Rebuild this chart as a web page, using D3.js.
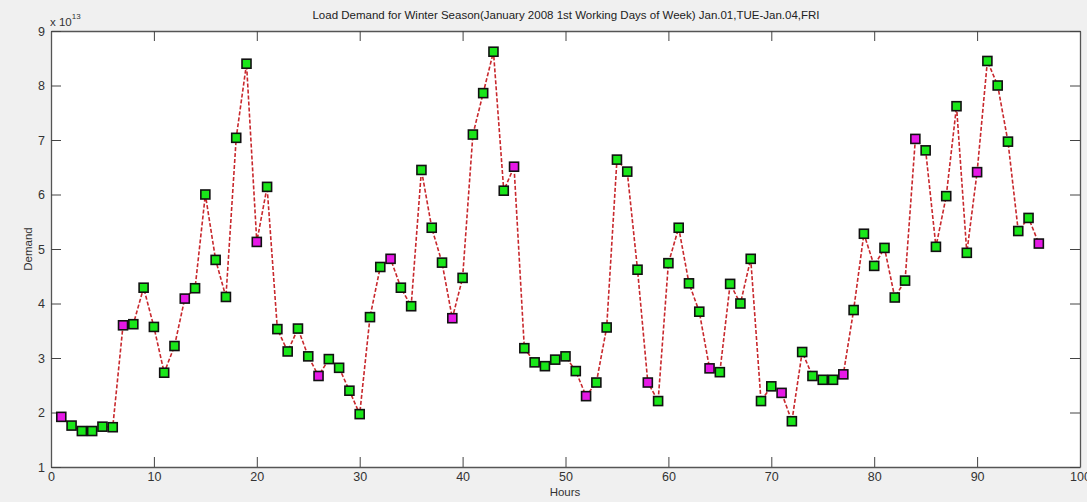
<!DOCTYPE html>
<html>
<head>
<meta charset="utf-8">
<script src="https://cdnjs.cloudflare.com/ajax/libs/d3/7.8.5/d3.min.js"></script>
<style>
  body { margin: 0; background: #f0f0f0; }
  svg { display: block; }
  text { font-family: "Liberation Sans", Arial, sans-serif; fill: #333; }
</style>
</head>
<body>
<div id="chart"></div>
<script>
let width = 1087,
  height = 502;

// hours 1..96
let hours = d3.range(1, 97);

// demand in units of 1e13
let demand = [
  1.92, 1.76, 1.66, 1.66, 1.74, 1.73, 3.60, 3.62, 4.29, 3.57,
  2.73, 3.22, 4.09, 4.28, 6.00, 4.80, 4.12, 7.04, 8.40, 5.13,
  6.14, 3.53, 3.12, 3.54, 3.03, 2.67, 2.98, 2.82, 2.40, 1.97,
  3.75, 4.67, 4.82, 4.29, 3.95, 6.45, 5.39, 4.75, 3.73, 4.47,
  7.10, 7.86, 8.62, 6.07, 6.51, 3.18, 2.92, 2.85, 2.97, 3.03,
  2.76, 2.30, 2.55, 3.56, 6.64, 6.42, 4.62, 2.55, 2.21, 4.74,
  5.39, 4.37, 3.85, 2.81, 2.74, 4.36, 4.00, 4.82, 2.21, 2.48,
  2.36, 1.84, 3.11, 2.67, 2.60, 2.60, 2.70, 3.88, 5.28, 4.69,
  5.02, 4.11, 4.42, 7.02, 6.81, 5.04, 5.97, 7.62, 4.93, 6.41,
  8.45, 8.00, 6.97, 5.33, 5.57, 5.10
];

// hours drawn with magenta markers (first hour of each 6-hour block)
let highlighted = [1, 7, 13, 20, 26, 33, 39, 45, 52, 58, 64, 71, 77, 84, 90, 96];

let xTicks = d3.range(0, 101, 10);
let yTicks = d3.range(1, 10, 1);

let margin = { left: 51, top: 31, right: 7, bottom: 35 };
let plotW = width - margin.left - margin.right,
  plotH = height - margin.top - margin.bottom;

let svg = d3.select('#chart')
  .append('svg')
  .attr('width', width)
  .attr('height', height);

//white plot area
svg.append('rect')
  .attr('x', margin.left)
  .attr('y', margin.top)
  .attr('width', plotW)
  .attr('height', plotH)
  .style('fill', '#fff');

let xScale = d3.scaleLinear().domain([0, 100]).range([margin.left, margin.left + plotW]);
let yScale = d3.scaleLinear().domain([1, 9]).range([margin.top + plotH, margin.top]);

// axes with inward ticks on all four sides (matlab box)
function styleAxis(g) {
  g.select('.domain').attr('stroke', '#555').attr('stroke-width', 1.3);
  g.selectAll('.tick line').attr('stroke', '#444');
  g.selectAll('.tick text').style('font-size', '12.5px').style('fill', '#333');
}

svg.append('g')
  .attr('transform', 'translate(0,' + (margin.top + plotH) + ')')
  .call(d3.axisBottom(xScale).tickValues(xTicks).tickSizeInner(-10).tickSizeOuter(0).tickPadding(5))
  .call(styleAxis);

svg.append('g')
  .attr('transform', 'translate(0,' + margin.top + ')')
  .call(d3.axisTop(xScale).tickValues(xTicks).tickSizeInner(-10).tickSizeOuter(0).tickFormat(''))
  .call(styleAxis);

svg.append('g')
  .attr('transform', 'translate(' + margin.left + ',0)')
  .call(d3.axisLeft(yScale).tickValues(yTicks).tickSizeInner(-10).tickSizeOuter(0).tickPadding(6))
  .call(styleAxis);

svg.append('g')
  .attr('transform', 'translate(' + (margin.left + plotW) + ',0)')
  .call(d3.axisRight(yScale).tickValues(yTicks).tickSizeInner(-10).tickSizeOuter(0).tickFormat(''))
  .call(styleAxis);

// dashed red line
let line = d3.line()
  .x(function (d, i) { return xScale(hours[i]); })
  .y(function (d) { return yScale(d); });

svg.append('path')
  .datum(demand)
  .attr('d', line)
  .style('fill', 'none')
  .style('stroke', '#c8282d')
  .style('stroke-width', 1.6)
  .style('stroke-dasharray', '4,2');

// square markers
let s = 9;
svg.selectAll('.marker')
  .data(demand)
  .enter()
  .append('rect')
  .attr('class', 'marker')
  .attr('x', function (d, i) { return xScale(hours[i]) - s / 2; })
  .attr('y', function (d) { return yScale(d) - s / 2; })
  .attr('width', s)
  .attr('height', s)
  .style('fill', function (d, i) {
    return highlighted.indexOf(hours[i]) >= 0 ? '#e619e6' : '#19e619';
  })
  .style('stroke', '#111')
  .style('stroke-width', 1.6);

// title
svg.append('text')
  .attr('x', 566)
  .attr('y', 19)
  .style('text-anchor', 'middle')
  .style('font-size', '11.5px')
  .style('fill', '#222')
  .text('Load Demand for Winter Season(January 2008 1st Working Days of Week) Jan.01,TUE-Jan.04,FRI');

// exponent label
let expo = svg.append('text')
  .attr('x', 50)
  .attr('y', 26)
  .style('font-size', '11.5px');
expo.append('tspan').text('x 10');
expo.append('tspan').attr('dy', -7).style('font-size', '8px').text('13');

// axis labels
svg.append('text')
  .attr('transform', 'rotate(-90)')
  .attr('x', -249)
  .attr('y', 32)
  .style('text-anchor', 'middle')
  .style('font-size', '11.5px')
  .text('Demand');

svg.append('text')
  .attr('x', 565)
  .attr('y', 496)
  .style('text-anchor', 'middle')
  .style('font-size', '11.5px')
  .text('Hours');
</script>
</body>
</html>
